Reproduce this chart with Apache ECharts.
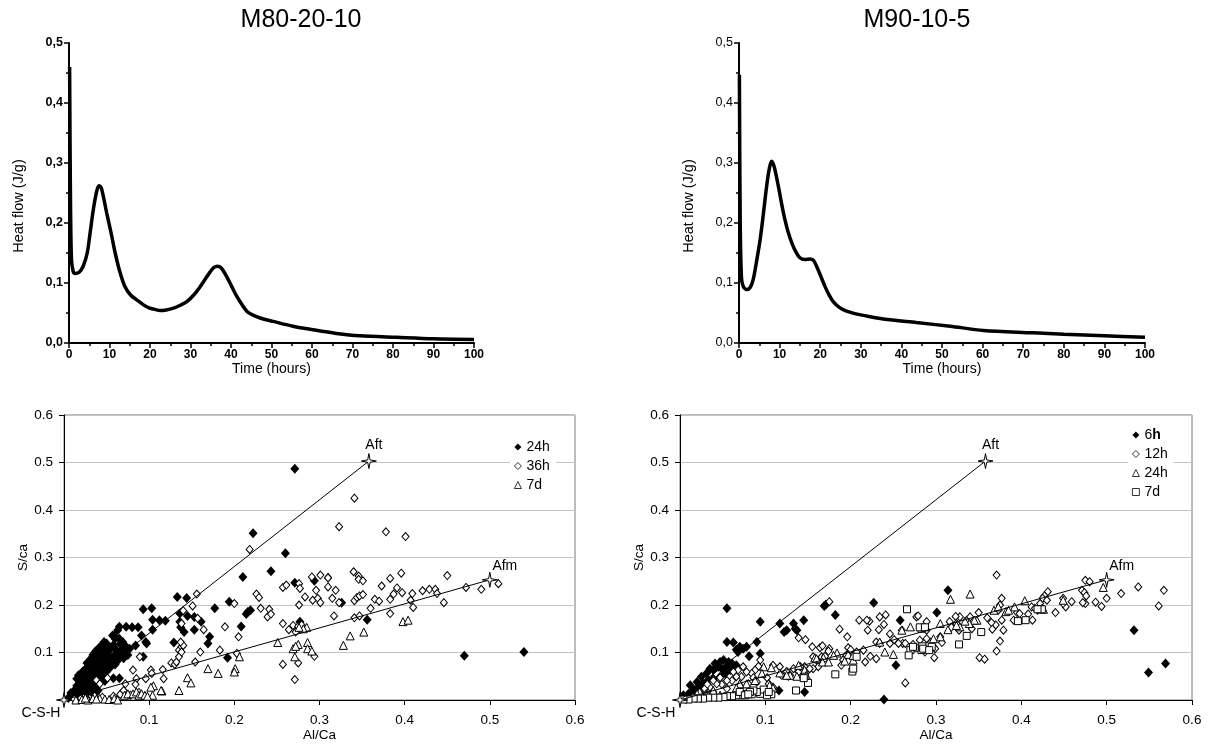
<!DOCTYPE html>
<html><head><meta charset="utf-8">
<script src="https://cdn.jsdelivr.net/npm/echarts/dist/echarts.min.js"></script>
<style>html,body{margin:0;padding:0;background:#fff}#c{width:1213px;height:748px}</style>
</head><body><div id="c"></div>
<script>
const FONT = "'Liberation Sans', Arial, Helvetica, sans-serif";

// ---------- calorimetry curves ----------
const titles = ['M80-20-10', 'M90-10-5'];
const hfTimeA = [0.15,0.35,0.6,1.0,1.5,2.5,3.5,4.5,5.2,6.0,6.8,7.4,8.0,9.3,10.5,11.4,12.5,13.8,15.2,16.7,18.3,19.9,21.2,22.5,24.0,25.8,27.5,29.1,30.8,32.4,33.7,34.9,35.8,36.6,37.6,38.9,40.2,41.4,42.7,43.9,45.0,46.3,48.0,50.4,55.3,60.3,66.0,71.8,80.9,90,100];
const hfValA  = [0.46,0.25,0.14,0.12,0.116,0.118,0.128,0.15,0.183,0.222,0.252,0.262,0.258,0.217,0.18,0.15,0.12,0.094,0.08,0.072,0.064,0.058,0.056,0.054,0.055,0.058,0.063,0.069,0.08,0.094,0.107,0.119,0.126,0.128,0.125,0.111,0.094,0.078,0.064,0.053,0.048,0.044,0.04,0.036,0.028,0.022,0.016,0.012,0.0094,0.007,0.006];
const hfTimeB = [0.1,0.3,0.6,1.0,1.9,2.8,3.5,4.3,5.2,6.0,6.8,7.5,8.05,8.7,9.7,10.5,11.3,12.1,13.0,14.0,15.0,16.2,17.5,18.3,19.1,20.1,21.2,22.2,23.2,24.8,26.5,28.5,30.6,35.5,43.7,52,60.2,72.5,80,90,100];
const hfValB  = [0.447,0.2,0.11,0.095,0.089,0.093,0.106,0.135,0.172,0.215,0.261,0.292,0.303,0.293,0.261,0.232,0.206,0.185,0.167,0.152,0.142,0.139,0.14,0.138,0.128,0.112,0.094,0.08,0.069,0.059,0.053,0.049,0.046,0.040,0.034,0.028,0.021,0.017,0.0145,0.012,0.0095];

// ---------- reference phases (C-S-H, Aft, Afm) ----------
const refNames = ['C-S-H', 'Aft', 'Afm'];
const refPts = [[0, 0], [0.358, 0.503], [0.5, 0.253]];

// ---------- M80-20-10 EDS points ----------
const L_24h = [[0.271,0.487],[0.222,0.351],[0.260,0.309],[0.243,0.271],[0.210,0.259],[0.271,0.247],[0.294,0.251],
[0.133,0.217],[0.144,0.215],[0.177,0.193],[0.194,0.207],[0.093,0.191],[0.103,0.193],[0.104,0.169],[0.112,0.168],[0.119,0.167],
[0.136,0.182],[0.145,0.177],[0.153,0.175],[0.161,0.165],[0.136,0.165],[0.137,0.153],[0.141,0.143],[0.153,0.148],[0.171,0.133],[0.169,0.119],[0.129,0.121],[0.104,0.148],[0.096,0.122],[0.091,0.136],[0.084,0.115],[0.093,0.091],[0.192,0.089],[0.208,0.155],[0.216,0.186],[0.219,0.189],[0.214,0.181],[0.277,0.165],[0.326,0.205],[0.356,0.169],[0.470,0.093],[0.540,0.101],
[0.065,0.154],[0.073,0.154],[0.080,0.153],[0.087,0.153],[0.057,0.136],[0.060,0.129],[0.065,0.129],[0.069,0.122],[0.072,0.098],[0.073,0.112],[0.061,0.098],[0.051,0.112],[0.047,0.122],[0.053,0.091],[0.055,0.084],[0.058,0.046],[0.065,0.046],
[0.063,0.147],[0.059,0.136],[0.050,0.119],[0.067,0.105],[0.077,0.108],[0.097,0.119],[0.044,0.112],
[0.005,0.004],[0.008,0.008],[0.010,0.012],[0.012,0.006],[0.014,0.018],[0.016,0.010],[0.018,0.024],[0.019,0.015],[0.021,0.030],[0.022,0.020],[0.024,0.036],[0.025,0.026],[0.026,0.045],[0.027,0.014],[0.028,0.032],[0.029,0.052],[0.030,0.040],[0.031,0.060],[0.032,0.025],[0.033,0.048],[0.034,0.068],[0.035,0.036],[0.036,0.058],[0.037,0.076],[0.038,0.044],[0.039,0.066],[0.040,0.085],[0.041,0.052],[0.042,0.074],[0.043,0.094],[0.044,0.060],[0.045,0.082],[0.046,0.100],[0.047,0.070],[0.048,0.090],[0.049,0.106],[0.050,0.078],[0.052,0.096],[0.054,0.068],[0.055,0.108],[0.057,0.088],[0.058,0.116],[0.060,0.075],[0.062,0.104],[0.064,0.085],[0.066,0.118],[0.068,0.095],[0.022,0.060],[0.018,0.040],[0.028,0.070],[0.015,0.030],
[0.015,0.045],[0.017,0.052],[0.020,0.050],[0.023,0.055],[0.025,0.065],[0.027,0.078],[0.030,0.082],[0.032,0.088],[0.034,0.095],[0.036,0.100],[0.038,0.104],[0.041,0.109],[0.043,0.113],[0.040,0.096],[0.037,0.090],[0.033,0.078],[0.029,0.066],[0.026,0.056],[0.023,0.046],[0.020,0.038],[0.045,0.050],[0.050,0.060],[0.053,0.070],[0.056,0.076],[0.048,0.040],[0.042,0.036],[0.038,0.030],[0.032,0.018],[0.028,0.022],[0.035,0.012],[0.040,0.020],[0.012,0.020],[0.008,0.015],[0.062,0.090],[0.070,0.088],[0.075,0.095]];
const L_36h = [[0.218,0.317],[0.156,0.223],[0.200,0.203],[0.151,0.198],[0.140,0.188],[0.157,0.172],[0.164,0.148],[0.138,0.161],[0.189,0.154],[0.205,0.133],[0.226,0.223],[0.229,0.216],[0.231,0.193],[0.241,0.191],[0.239,0.175],[0.243,0.181],[0.257,0.237],[0.261,0.242],[0.276,0.245],[0.277,0.235],[0.291,0.259],[0.301,0.263],[0.310,0.258],[0.283,0.217],[0.292,0.210],[0.296,0.231],[0.298,0.214],[0.301,0.205],[0.276,0.200],[0.257,0.161],[0.264,0.148],[0.269,0.157],[0.275,0.155],[0.279,0.158],[0.272,0.143],[0.257,0.075],[0.275,0.078],[0.271,0.043],[0.294,0.092],[0.203,0.098],[0.183,0.105],[0.160,0.101],[0.154,0.080],[0.126,0.078],[0.130,0.075],[0.135,0.105],[0.138,0.112],[0.116,0.064],[0.102,0.063],[0.103,0.056],[0.117,0.045],[0.096,0.045],[0.085,0.045],[0.084,0.033],[0.081,0.063],[0.089,0.091],[0.072,0.034],[0.051,0.046],[0.038,0.042],[0.042,0.034],
[0.132,0.080],[0.135,0.091],[0.138,0.101],[0.140,0.115],[0.137,0.122],
[0.341,0.425],[0.323,0.365],[0.378,0.354],[0.401,0.344],[0.340,0.270],[0.346,0.261],[0.346,0.254],[0.351,0.251],[0.373,0.240],[0.383,0.256],[0.396,0.267],[0.450,0.262],[0.472,0.237],[0.490,0.233],[0.510,0.245],[0.429,0.233],[0.436,0.233],[0.438,0.224],[0.421,0.230],[0.409,0.224],[0.391,0.236],[0.387,0.223],[0.397,0.226],[0.383,0.212],[0.365,0.212],[0.370,0.208],[0.446,0.205],[0.407,0.210],[0.410,0.195],[0.383,0.182],[0.360,0.193],[0.341,0.209],[0.344,0.216],[0.347,0.219],[0.351,0.222],[0.323,0.205],[0.315,0.214],[0.319,0.231],[0.310,0.238],[0.310,0.257],[0.317,0.177],[0.341,0.173],[0.347,0.177],
[0.012,0.002],[0.020,0.004],[0.027,0.003],[0.045,0.006],[0.058,0.008],[0.066,0.012],[0.078,0.010],[0.088,0.016],[0.095,0.008],[0.070,0.020],[0.036,0.008]];
const L_7d = [[0.398,0.165],[0.404,0.168],[0.352,0.143],[0.336,0.135],[0.328,0.115],[0.285,0.153],[0.281,0.150],[0.286,0.121],[0.286,0.108],[0.291,0.103],[0.251,0.121],[0.271,0.091],[0.269,0.108],[0.276,0.153],[0.275,0.117],[0.272,0.113],[0.206,0.091],[0.201,0.066],[0.200,0.059],[0.169,0.066],[0.181,0.056],[0.145,0.047],[0.149,0.036],[0.135,0.020],[0.115,0.019],[0.105,0.030],[0.104,0.010],[0.102,0.027],[0.114,0.020],
[0.014,0.000],[0.021,0.001],[0.028,0.000],[0.034,0.003],[0.042,0.003],[0.048,0.002],[0.053,0.001],[0.059,0.003],[0.063,0.000],[0.071,0.010],[0.075,0.013],[0.081,0.013],[0.085,0.017],[0.088,0.010],[0.091,0.013],[0.095,0.010],[0.098,0.008],[0.038,0.002],[0.025,0.004]];

// ---------- M90-10-5 EDS points ----------
const R_6h = [[0.055,0.193],[0.055,0.122],[0.0625,0.121],[0.094,0.165],[0.090,0.122],[0.094,0.098],[0.081,0.092],[0.070,0.112],[0.074,0.108],[0.078,0.112],[0.066,0.106],[0.117,0.161],[0.122,0.143],[0.125,0.147],[0.133,0.161],[0.135,0.150],[0.137,0.147],[0.145,0.168],[0.169,0.198],[0.171,0.201],[0.182,0.179],[0.227,0.205],[0.258,0.168],[0.253,0.073],[0.239,0.001],[0.146,0.017],[0.116,0.020],[0.314,0.231],[0.301,0.184],[0.532,0.147],[0.549,0.058],[0.569,0.077],
[0.051,0.084],[0.057,0.080],[0.061,0.077],[0.066,0.073],[0.064,0.066],[0.059,0.063],[0.053,0.056],[0.047,0.049],[0.039,0.045],[0.033,0.042],[0.027,0.035],[0.021,0.027],[0.016,0.021],[0.010,0.013],[0.004,0.010],[0.045,0.070],[0.039,0.063],[0.031,0.056],[0.025,0.049],[0.020,0.038],[0.012,0.031],[0.055,0.071],[0.049,0.066],[0.035,0.066],[0.041,0.077],[0.047,0.080],[0.068,0.101]];
const R_12h = [[0.371,0.263],[0.537,0.238],[0.567,0.231],[0.517,0.224],[0.561,0.198],[0.475,0.252],[0.480,0.249],[0.471,0.231],[0.474,0.226],[0.476,0.219],[0.475,0.203],[0.472,0.205],[0.487,0.206],[0.494,0.197],[0.500,0.214],
[0.431,0.228],[0.427,0.219],[0.425,0.214],[0.422,0.203],[0.419,0.189],[0.413,0.168],[0.408,0.181],[0.412,0.196],[0.416,0.193],[0.430,0.210],[0.449,0.214],[0.452,0.196],[0.459,0.207],[0.440,0.184],[0.449,0.203],[0.395,0.184],[0.391,0.168],[0.398,0.182],
[0.377,0.214],[0.375,0.200],[0.373,0.189],[0.377,0.168],[0.379,0.147],[0.375,0.124],[0.371,0.103],[0.370,0.158],[0.360,0.173],[0.365,0.163],[0.366,0.149],[0.350,0.184],[0.351,0.089],[0.357,0.086],[0.342,0.150],[0.336,0.168],[0.340,0.175],[0.328,0.175],[0.323,0.176],[0.324,0.161],[0.327,0.147],[0.316,0.165],[0.318,0.153],[0.297,0.112],[0.298,0.089],[0.294,0.122],[0.289,0.147],[0.289,0.165],[0.277,0.175],[0.289,0.129],[0.281,0.126],[0.273,0.117],[0.264,0.036],[0.260,0.147],[0.261,0.119],[0.305,0.133],[0.307,0.121],
[0.175,0.207],[0.187,0.149],[0.196,0.133],[0.175,0.108],[0.164,0.110],[0.155,0.112],[0.147,0.127],[0.139,0.131],[0.167,0.114],[0.156,0.091],[0.166,0.091],[0.222,0.166],[0.220,0.147],[0.233,0.148],[0.239,0.159],[0.241,0.179],[0.279,0.177],[0.246,0.139],[0.230,0.122],[0.234,0.119],[0.246,0.119],[0.251,0.127],[0.256,0.119],[0.264,0.119],[0.197,0.110],[0.200,0.106],[0.195,0.094],[0.191,0.084],[0.189,0.073],[0.207,0.101],[0.223,0.092],[0.230,0.087],[0.215,0.105],[0.217,0.080],[0.299,0.108],[0.287,0.101],
[0.174,0.103],[0.170,0.092],[0.160,0.084],[0.162,0.070],[0.156,0.066],[0.150,0.063],[0.146,0.070],[0.139,0.059],[0.145,0.054],[0.129,0.052],[0.210,0.168],[0.219,0.168],[0.234,0.175],
[0.117,0.070],[0.109,0.073],[0.119,0.052],[0.125,0.060],[0.127,0.050],[0.133,0.066],[0.141,0.070],[0.152,0.066],
[0.094,0.084],[0.092,0.071],[0.088,0.063],[0.084,0.056],[0.078,0.059],[0.072,0.049],[0.066,0.049],[0.061,0.041],[0.055,0.041],[0.049,0.033],[0.043,0.034],[0.035,0.027],[0.029,0.024],[0.023,0.017],[0.074,0.070],[0.068,0.063],[0.0625,0.059],[0.047,0.047],[0.039,0.041],[0.032,0.033],[0.086,0.047],[0.090,0.038],[0.102,0.047],[0.104,0.034],[0.109,0.027],[0.080,0.034],[0.070,0.031],[0.055,0.024],[0.039,0.017],[0.031,0.013]];
const R_24h = [[0.496,0.237],[0.317,0.212],[0.340,0.223],[0.404,0.209],[0.392,0.196],[0.382,0.186],[0.385,0.189],[0.368,0.189],[0.373,0.196],[0.424,0.193],[0.426,0.191],[0.449,0.210],[0.348,0.168],[0.345,0.168],[0.339,0.161],[0.334,0.166],[0.328,0.154],[0.324,0.157],[0.314,0.148],[0.305,0.161],[0.305,0.133],[0.297,0.129],[0.270,0.154],[0.260,0.147],
[0.240,0.101],[0.250,0.096],[0.234,0.122],[0.184,0.099],[0.197,0.096],[0.203,0.084],[0.193,0.082],[0.203,0.094],[0.158,0.089],[0.168,0.089],[0.167,0.080],[0.174,0.080],[0.139,0.073],[0.146,0.063],[0.148,0.052],[0.129,0.052],[0.137,0.050],[0.160,0.087],[0.180,0.094],
[0.107,0.068],[0.117,0.057],[0.125,0.052],[0.098,0.070],[0.096,0.056],[0.088,0.041],[0.078,0.034],[0.070,0.034],[0.066,0.025],[0.105,0.031],[0.109,0.025],[0.023,0.017],[0.031,0.010],[0.020,0.013],[0.039,0.020],[0.047,0.010]];
const R_7d = [[0.266,0.191],[0.283,0.150],[0.283,0.105],[0.295,0.112],[0.284,0.113],[0.285,0.108],[0.275,0.110],[0.270,0.105],[0.268,0.094],[0.292,0.105],[0.327,0.117],[0.336,0.135],[0.353,0.143],[0.396,0.166],[0.405,0.168],[0.424,0.191],[0.419,0.191],[0.281,0.153],[0.287,0.153],[0.273,0.112],[0.207,0.091],[0.202,0.060],[0.203,0.066],[0.182,0.054],[0.146,0.049],[0.150,0.036],[0.136,0.020],[0.107,0.012],[0.145,0.046],
[0.094,0.013],[0.098,0.022],[0.090,0.017],[0.084,0.012],[0.078,0.013],[0.072,0.010],[0.066,0.010],[0.061,0.008],[0.055,0.008],[0.051,0.006],[0.045,0.005],[0.039,0.005],[0.033,0.005],[0.027,0.003],[0.021,0.003],[0.016,0.003],[0.010,0.001],[0.004,0.001],[0.070,0.017],[0.086,0.020],[0.082,0.017],[0.076,0.010],[0.080,0.012],[0.102,0.010],[0.104,0.017]];

const legendL = ['24h', '36h', '7d'];
const legendR = ['6h', '12h', '24h', '7d'];

// ---------- build option ----------
const zip = (a, b) => a.map((v, i) => [v, b[i]]);
const STAR = 'path://M0,-10 L1.6,-1.6 L10,0 L1.6,1.6 L0,10 L-1.6,1.6 L-10,0 L-1.6,-1.6 Z';
const filled = {color: '#000', opacity: 1};
const open = {color: '#fff', borderColor: '#000', borderWidth: 1, opacity: 1};

function topX(gi) {
  return {type: 'value', gridIndex: gi, min: 0, max: 100, interval: 10,
    axisLine: {onZero: false, lineStyle: {color: '#000', width: 2}},
    axisTick: {show: true, length: 5, lineStyle: {color: '#000', width: 1.5}},
    minorTick: {show: true, splitNumber: 2, length: 3, lineStyle: {color: '#000', width: 1.5}},
    splitLine: {show: false},
    axisLabel: {fontFamily: FONT, fontSize: 12, fontWeight: 'bold', color: '#000', margin: 6},
    name: 'Time (hours)', nameLocation: 'middle', nameGap: 18,
    nameTextStyle: {fontFamily: FONT, fontSize: 14, color: '#000'}};
}
function topY(gi, bold) {
  return {type: 'value', gridIndex: gi, min: 0, max: 0.5, interval: 0.1,
    axisLine: {show: true, onZero: false, lineStyle: {color: '#000', width: 2}},
    axisTick: {show: true, length: 5, lineStyle: {color: '#000', width: 1.5}},
    minorTick: {show: true, splitNumber: 2, length: 3, lineStyle: {color: '#000', width: 1.5}},
    splitLine: {show: false},
    axisLabel: {fontFamily: FONT, fontSize: 12.5, fontWeight: bold ? 'bold' : 'normal', color: '#000', margin: 6,
      formatter: v => v.toFixed(1).replace('.', ',')},
    name: 'Heat flow (J/g)', nameLocation: 'middle', nameGap: 43, nameRotate: 90,
    nameTextStyle: {fontFamily: FONT, fontSize: 14.5, color: '#000', padding: [0, 26, 0, 0]}};
}
function botX(gi) {
  return {type: 'value', gridIndex: gi, min: 0, max: 0.6, interval: 0.1,
    axisLine: {onZero: false, lineStyle: {color: '#000', width: 1}},
    axisTick: {show: true, length: 5, lineStyle: {color: '#000'}},
    splitLine: {show: false},
    axisLabel: {fontFamily: FONT, fontSize: 13.5, color: '#000', margin: 13,
      formatter: v => v === 0 ? '' : v.toFixed(1)},
    name: 'Al/Ca', nameLocation: 'middle', nameGap: 25,
    nameTextStyle: {fontFamily: FONT, fontSize: 13.5, color: '#000'}};
}
function botY(gi) {
  return {type: 'value', gridIndex: gi, min: 0, max: 0.6, interval: 0.1,
    axisLine: {show: true, onZero: false, lineStyle: {color: '#000', width: 1}},
    axisTick: {show: true, length: 5, lineStyle: {color: '#000'}},
    splitLine: {show: true, lineStyle: {color: '#c4c4c4', width: 1}},
    axisLabel: {fontFamily: FONT, fontSize: 13.5, color: '#000', margin: 11,
      formatter: v => v === 0 ? '' : v.toFixed(1)},
    name: 'S/ca', nameLocation: 'middle', nameGap: 34, nameRotate: 90,
    nameTextStyle: {fontFamily: FONT, fontSize: 13.5, color: '#000'}};
}

function refSeries(gi, cshOffset) {
  const lbl = [
    {position: 'bottom', offset: [cshOffset, -4]},
    {position: 'top', offset: [5, 1]},
    {position: 'top', offset: [15, 3]}
  ];
  return [
    {type: 'line', xAxisIndex: gi, yAxisIndex: gi, data: [refPts[0], refPts[1]], symbol: 'none', silent: true,
      lineStyle: {color: '#000', width: 1}, z: 3},
    {type: 'line', xAxisIndex: gi, yAxisIndex: gi, data: [refPts[0], refPts[2]], symbol: 'none', silent: true,
      lineStyle: {color: '#000', width: 1}, z: 3},
    {type: 'scatter', xAxisIndex: gi, yAxisIndex: gi, symbol: STAR, symbolSize: 15, z: 4, silent: true,
      itemStyle: {color: '#fff', borderColor: '#000', borderWidth: 1, opacity: 1},
      data: refPts.map((p, i) => ({value: p, name: refNames[i],
        label: Object.assign({show: true, formatter: refNames[i], fontFamily: FONT, fontSize: 14, color: '#000', distance: 2}, lbl[i])}))}
  ];
}

function sc(gi, name, data, symbol, size, style) {
  return {type: 'scatter', name: name, xAxisIndex: gi, yAxisIndex: gi, data: data,
    symbol: symbol, symbolSize: size, itemStyle: style, z: 2, silent: true};
}

const legendCommon = {orient: 'vertical', padding: [2, 6, 2, 4], itemGap: 5, itemWidth: 7, itemHeight: 7,
  backgroundColor: '#fff', selectedMode: false, itemStyle: {borderWidth: 0.8}};

const option = {
  backgroundColor: '#fff',
  animation: false,
  title: [
    {text: titles[0], left: 301, top: 8, textAlign: 'center', padding: 0,
      textStyle: {fontFamily: FONT, fontSize: 25, fontWeight: 'normal', color: '#000'}},
    {text: titles[1], left: 917, top: 8, textAlign: 'center', padding: 0,
      textStyle: {fontFamily: FONT, fontSize: 25, fontWeight: 'normal', color: '#000'}}
  ],
  grid: [
    {left: 69, top: 43, width: 405, height: 300},
    {left: 739, top: 43, width: 406, height: 300},
    {left: 64, top: 415, width: 511, height: 285, show: true, borderColor: '#7a7a7a', borderWidth: 1, backgroundColor: 'transparent'},
    {left: 680, top: 415, width: 512, height: 285, show: true, borderColor: '#7a7a7a', borderWidth: 1, backgroundColor: 'transparent'}
  ],
  xAxis: [topX(0), topX(1), botX(2), botX(3)],
  yAxis: [topY(0, true), topY(1, false), botY(2), botY(3)],
  legend: [
    Object.assign({}, legendCommon, {left: 510, top: 438, data: legendL,
      textStyle: {fontFamily: FONT, fontSize: 14, color: '#000', lineHeight: 14}}),
    Object.assign({}, legendCommon, {left: 1128, top: 426, data: legendR.map(n => n + ' '),
      formatter: n => n.trim() === '6h' ? '6{b|h}' : n.trim(),
      textStyle: {fontFamily: FONT, fontSize: 14, color: '#000', lineHeight: 14,
        rich: {b: {fontFamily: FONT, fontSize: 14, fontWeight: 'bold', color: '#000', lineHeight: 14}}}})
  ],
  series: [
    {type: 'line', xAxisIndex: 0, yAxisIndex: 0, data: zip(hfTimeA, hfValA), showSymbol: false, symbol: 'none',
      smooth: 0.3, lineStyle: {color: '#000', width: 3.5}, silent: true},
    {type: 'line', xAxisIndex: 1, yAxisIndex: 1, data: zip(hfTimeB, hfValB), showSymbol: false, symbol: 'none',
      smooth: 0.3, lineStyle: {color: '#000', width: 3.5}, silent: true},
    sc(2, legendL[0], L_24h, 'diamond', [9, 10], filled),
    sc(2, legendL[1], L_36h, 'diamond', [7, 8], open),
    sc(2, legendL[2], L_7d, 'triangle', 8, open),
    ...refSeries(2, -23),
    sc(3, legendR[0] + ' ', R_6h, 'diamond', [9, 10], filled),
    sc(3, legendR[1] + ' ', R_12h, 'diamond', [7, 8], open),
    sc(3, legendR[2] + ' ', R_24h, 'triangle', 8, open),
    sc(3, legendR[3] + ' ', R_7d, 'rect', 7, open),
    ...refSeries(3, -24)
  ]
};

const chart = echarts.init(document.getElementById('c'));
chart.setOption(option);
</script>
</body></html>
